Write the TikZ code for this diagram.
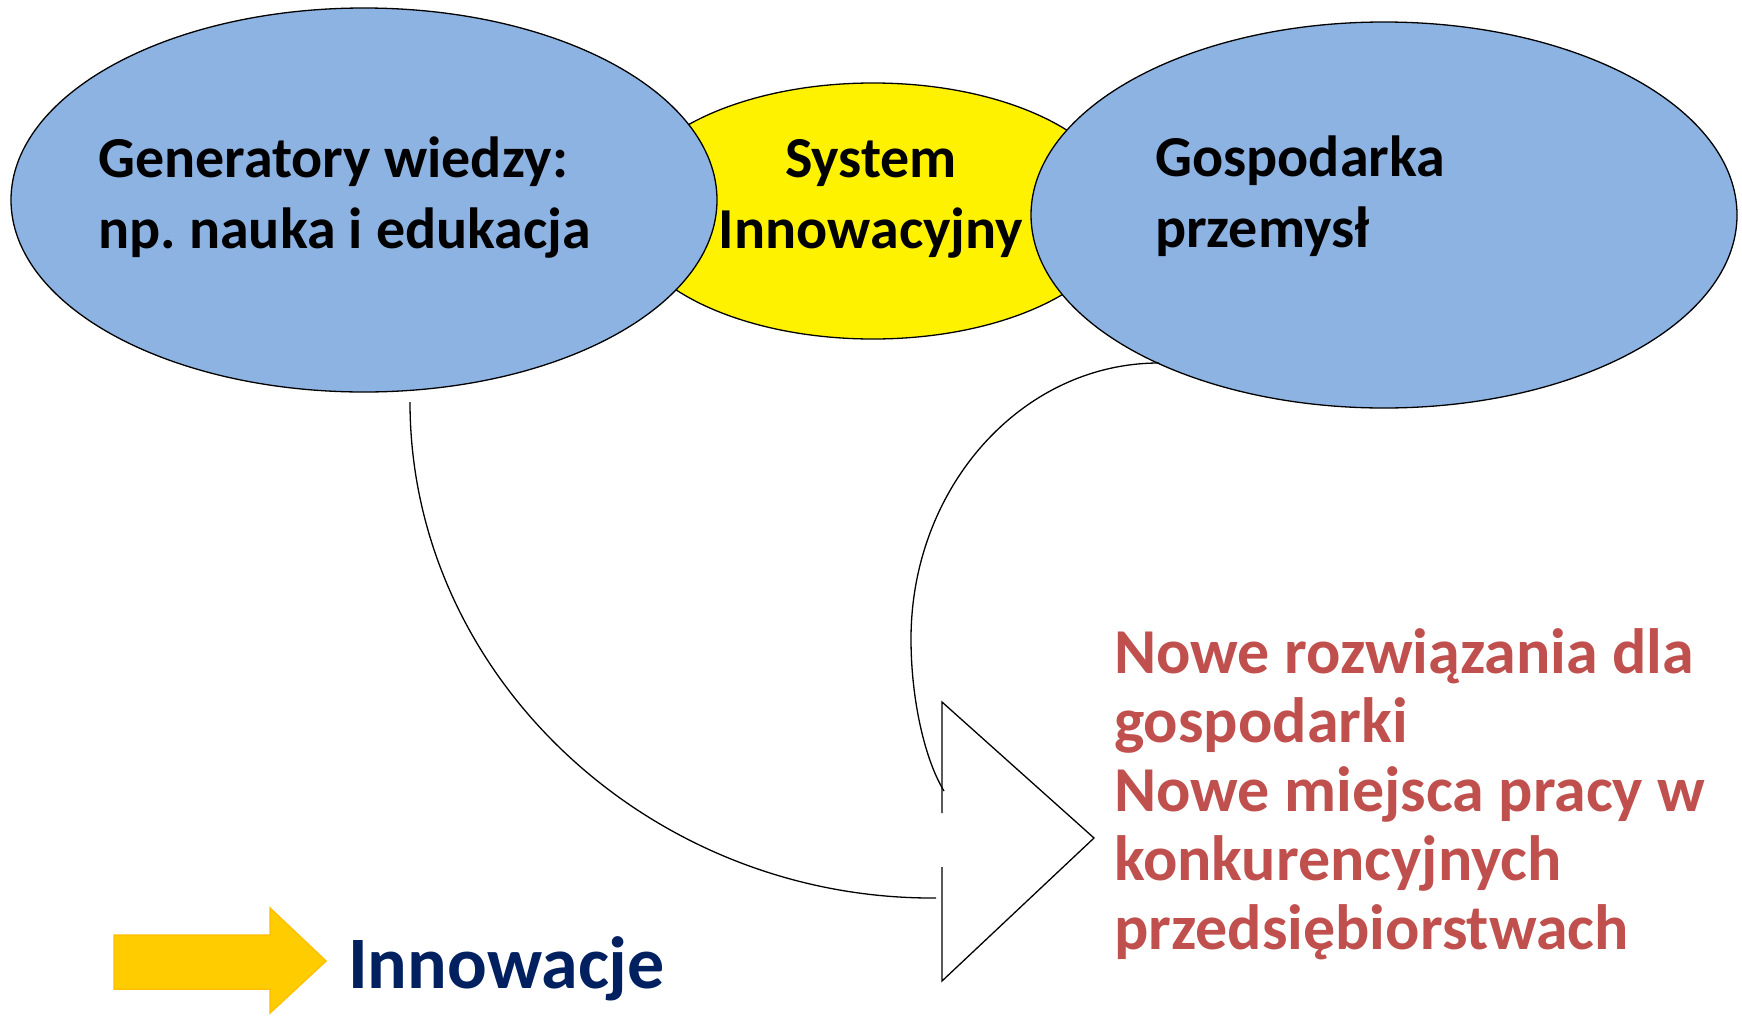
\documentclass[tikz,border=0pt]{standalone}
\usepackage{fontspec}
\setmainfont{Carlito}
\usepackage{tikz}
\usetikzlibrary{positioning,shapes.geometric}
\frenchspacing

\definecolor{bubbleblue}{HTML}{8DB3E2}
\definecolor{outred}{HTML}{C0504D}
\definecolor{navy}{HTML}{002060}
\definecolor{arrowgold}{HTML}{FFCC00}
\definecolor{arrowedge}{HTML}{FFC000}

\begin{document}
\begin{tikzpicture}
  [x=1pt,y=-1pt,
   bubble/.style={ellipse,draw=black,line width=1.3pt,inner sep=0pt},
   label/.style={inner sep=0pt,align=left,font=\bfseries\fontsize{58}{71}\selectfont},
   result/.style={inner sep=0pt,align=left,text=outred,font=\bfseries\fontsize{64}{69}\selectfont},
   link/.style={draw=black,line width=1.3pt}]

  \useasboundingbox (0,0) rectangle (1742,1015);

  \node[bubble,fill=yellow,minimum width=500pt,minimum height=256pt] (sys) at (873,211) {};
  \node[bubble,fill=bubbleblue,minimum width=706pt,minimum height=384pt] (gen) at (364,200) {};
  \node[bubble,fill=bubbleblue,minimum width=706pt,minimum height=386pt] (eco) at (1384,215) {};

  % anchors sit on the last baseline
  \node[label,anchor=base west] (gentext) at (98,248) {Generatory wiedzy:\\np. nauka i edukacja};
  \node[label,anchor=base,align=center] (systext) at (871,248) {System\\Innowacyjny};
  \node[label,anchor=base west] (ecotext) at (1155,247) {Gospodarka\\przemysł};
  \node[result,anchor=base west] (out) at (1114,949) {Nowe rozwiązania dla\\gospodarki\\Nowe miejsca pracy w\\konkurencyjnych\\przedsiębiorstwach};

  % arrow head with open back
  \coordinate (tri-top) at (942,702);
  \coordinate (tri-tip) at (1094,838);
  \coordinate (tri-bot) at (942,981);
  \coordinate (tri-g1) at (942,813);
  \coordinate (tri-g2) at (942,867);
  \draw[link,line join=miter] (tri-g1) -- (tri-top) -- (tri-tip) -- (tri-bot) -- (tri-g2);

  % connectors into the head
  \coordinate (gen-out) at (410,402);
  \coordinate (gen-in) at (936,898);
  \coordinate (eco-out) at (1159,363);
  \coordinate (eco-in) at (944,791);
  \draw[link] (gen-out) .. controls (410,676) and (650,900) .. (gen-in);
  \draw[link] (eco-out) .. controls (1022,363) and (911,487) .. (911,639)
                        .. controls (911,700) and (925,760) .. (eco-in);

  % legend
  \draw[fill=arrowgold,draw=arrowedge,line width=1.5pt]
    (114,935) -- (270,935) -- (270,908) -- (326,961) -- (270,1013) -- (270,989) -- (114,989) -- cycle;
  \node[inner sep=0pt,anchor=base west,text=navy,font=\bfseries\fontsize{74}{80}\selectfont] (legend) at (348,988) {Innowacje};
\end{tikzpicture}
\end{document}
